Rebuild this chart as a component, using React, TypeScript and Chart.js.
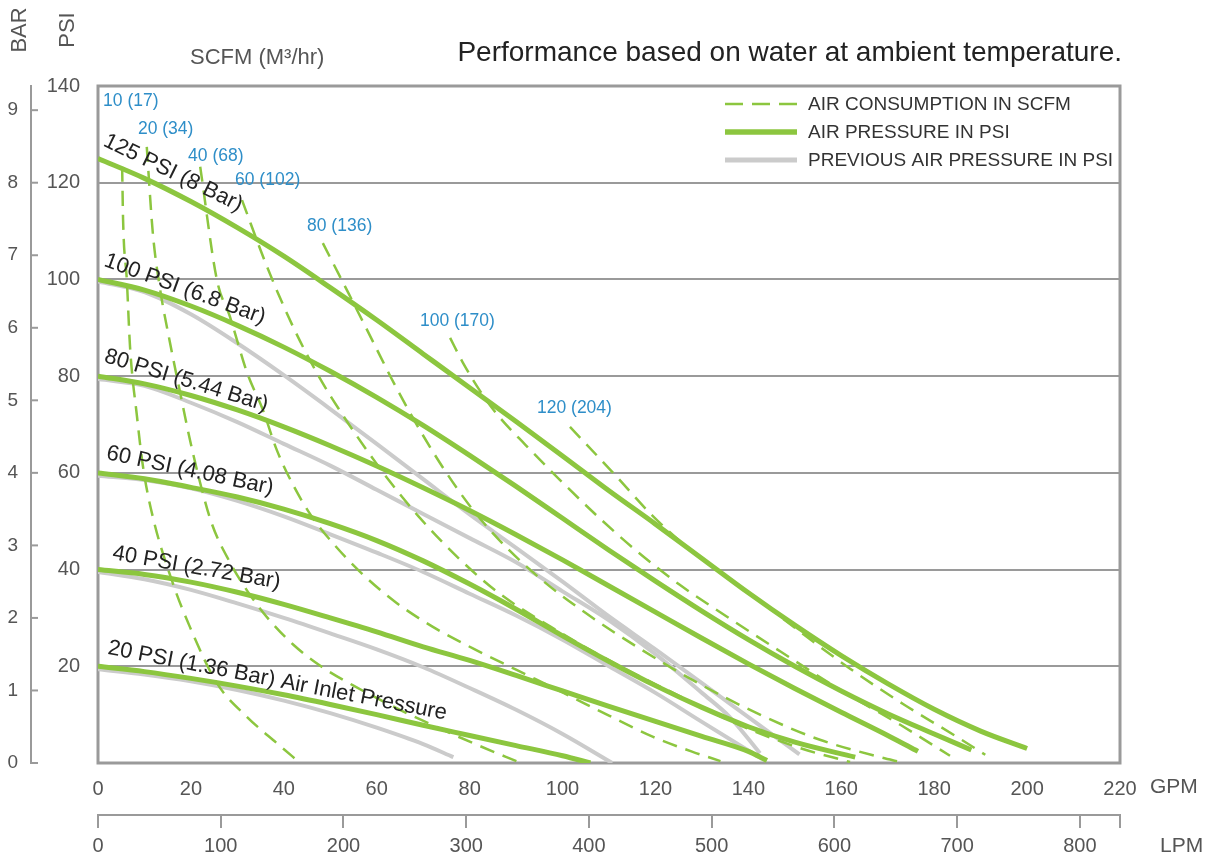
import React, { useEffect, useRef } from 'react';
import { Chart, registerables } from 'chart.js';

Chart.register(...registerables);

// ---- axes ----
const GPM_MAX = 220;
const PSI_MAX = 140;
const LPM_PER_GPM = 3.785;
const PSI_PER_BAR = 15; // as drawn on the BAR scale
const GPM_TICKS_STEP = 20;
const PSI_TICKS_STEP = 20;
const LPM_TICKS = [0, 100, 200, 300, 400, 500, 600, 700, 800];
const BAR_TICKS = [0, 1, 2, 3, 4, 5, 6, 7, 8, 9];

// ---- current air pressure curves (GPM -> PSI) ----
const G125_X = [0, 10, 20, 30, 40, 50, 60, 70, 80, 90, 100, 110, 120, 130, 140, 150, 160, 170, 180, 190, 200];
const G125_Y = [125, 120.9, 116.1, 110.7, 104.8, 98.3, 91.6, 84.6, 77.6, 70.6, 63.5, 56.3, 49.4, 42.3, 35.2, 28.5, 22.2, 16.4, 11.1, 6.6, 3];
const G100_X = [0, 10, 20, 30, 40, 50, 60, 70, 80, 90, 100, 110, 120, 130, 140, 150, 160, 170, 180, 188];
const G100_Y = [100, 97.8, 94.5, 90.5, 86, 81, 75.6, 69.8, 63.6, 57.2, 50.6, 44, 37.6, 31.4, 25.5, 20, 14.9, 10.2, 6, 2.7];
const G80_X = [0, 10, 20, 30, 40, 50, 60, 70, 80, 90, 100, 110, 120, 130, 140, 150, 160, 170, 176.5];
const G80_Y = [80, 78.4, 76, 73, 69.5, 65.6, 61.4, 56.9, 52.2, 47.2, 42, 36.6, 31.2, 25.8, 20.5, 15.4, 10.5, 5.7, 2.4];
const G60_X = [0, 10, 20, 30, 40, 50, 60, 70, 80, 90, 100, 110, 120, 130, 140, 150, 163];
const G60_Y = [60, 58.8, 57, 55, 52.5, 49.5, 46, 41.8, 37, 31.8, 26.3, 21, 16, 11.5, 7.5, 4.3, 1.2];
const G40_X = [0, 10, 20, 30, 40, 50, 60, 70, 80, 90, 100, 110, 120, 130, 140, 144];
const G40_Y = [40, 39, 37.4, 35.3, 32.8, 30, 27.1, 24, 21.2, 18.1, 14.9, 11.7, 8.6, 5.5, 2.4, 0.5];
const G20_X = [0, 10, 20, 30, 40, 50, 60, 70, 80, 90, 100, 106];
const G20_Y = [20, 18.9, 17.5, 15.9, 14.1, 12.1, 10, 7.8, 5.7, 3.6, 1.5, 0];

// ---- previous air pressure curves ----
const P100_X = [0, 10, 20, 30, 40, 50, 60, 70, 80, 90, 100, 110, 120, 130, 140, 151];
const P100_Y = [99.6, 97.4, 92.8, 86.8, 80.2, 73.2, 66, 58.7, 51.4, 44.5, 37.5, 30.3, 23.5, 16.5, 9.5, 1.8];
const P80_X = [0, 10, 20, 30, 40, 50, 60, 70, 80, 90, 100, 110, 120, 130, 136, 142.5];
const P80_Y = [79.4, 78, 74.5, 70.5, 66, 61.5, 56.5, 51.5, 46.5, 41.5, 35.5, 29.5, 22.5, 14.5, 9.5, 2];
const P60_X = [0, 10, 20, 30, 40, 50, 60, 70, 80, 90, 100, 110, 120, 130, 143];
const P60_Y = [59.4, 58.5, 56.8, 54.2, 51, 47.3, 43.5, 39.5, 35, 30.5, 25.5, 20, 14.5, 8.5, 0.8];
const P40_X = [0, 10, 20, 30, 40, 50, 60, 70, 80, 90, 100, 110.7];
const P40_Y = [39.5, 38, 35.8, 33, 30, 26.8, 23.5, 19.8, 15.5, 11, 6, 0];
const P20_X = [0, 10, 20, 30, 40, 50, 60, 70, 76.5];
const P20_Y = [19.4, 18.3, 16.9, 15.1, 12.9, 10.3, 7.3, 3.9, 1.2];

// ---- air consumption (SCFM) curves ----
const D10_X = [5.2, 5.4, 6.2, 6.9, 8.4, 9.7, 11.8, 16.1, 19.8, 25.6, 32.1, 38.5, 43.5];
const D10_Y = [123.3, 112.3, 100, 86, 71.6, 61.2, 50.9, 37.2, 28.1, 16.5, 9.5, 4.1, 0];
const D20_X = [10.5, 11.8, 13.3, 15.5, 17.7, 19.8, 22, 24.5, 28.4, 32.2, 36.5, 42, 48, 55, 65, 73, 81, 91];
const D20_Y = [127.4, 109.6, 98.4, 86.9, 76.5, 66.8, 57.9, 49.5, 41.5, 35.5, 30, 24.5, 20, 16, 11, 7.4, 4, 0];
const D40_X = [22, 25.6, 28.4, 32.1, 35.5, 38.5, 42, 46, 51, 57, 64, 72, 80.7, 90, 100, 110, 119.5, 128, 134];
const D40_Y = [123.3, 99.9, 92.3, 80.7, 73, 64.7, 57.5, 51, 45, 39, 33.3, 28.2, 23.7, 19.3, 14.6, 9.8, 5.4, 2.3, 0.4];
const D60_X = [31, 36.4, 42, 47.5, 53, 58, 63, 69, 78, 86.5, 99.5, 112.4, 125.3, 138.2, 151.1, 161.9];
const D60_Y = [116.4, 102.6, 90.2, 80, 71.5, 64.5, 58, 51, 42, 35, 27, 20, 13.8, 7.8, 3.1, 0.2];
const D80_X = [48.4, 54, 59, 64, 69.5, 75, 81, 88, 96, 105, 116.7, 129.6, 142.5, 155.4, 168.4, 172.7];
const D80_Y = [107.5, 97, 87.5, 78, 68.5, 60, 52, 44.5, 37.5, 31, 23.6, 16.3, 10, 4.8, 1.2, 0.2];
const D100_X = [75.8, 78.6, 82.2, 86, 92, 100, 108, 116, 125, 135, 147, 160, 172.7, 183.4];
const D100_Y = [87.9, 82.7, 77, 72, 65.8, 58, 50.6, 43.8, 37, 30.5, 23, 15, 7.9, 1.5];
const D120_X = [101.6, 110.9, 119.5, 127, 142.5, 152, 161.9, 173.3, 184.9, 191];
const D120_Y = [69.5, 60, 51, 44.5, 33.5, 26.5, 19.5, 12.2, 5.4, 1.7];

// ---- text labels ----
const CURVE_LABELS = ['125 PSI (8 Bar)', '100 PSI (6.8 Bar)', '80 PSI (5.44 Bar)', '60 PSI (4.08 Bar)', '40 PSI (2.72 Bar)', '20 PSI (1.36 Bar) Air Inlet Pressure'];
const CURVE_LABEL_GPM = [1.5, 1.5, 1.5, 1.9, 3.2, 2.2];
const CURVE_LABEL_PSI = [128.9, 104, 84.2, 64.1, 43.4, 23.8];
const CURVE_LABEL_ANGLE = [26, 20, 17, 12, 10, 11];

const SCFM_LABELS = ['10 (17)', '20 (34)', '40 (68)', '60 (102)', '80 (136)', '100 (170)', '120 (204)'];
const SCFM_LABEL_GPM = [1.1, 8.6, 19.4, 29.5, 45, 69.3, 94.5];
const SCFM_LABEL_PSI = [136.9, 131.1, 125.5, 120.6, 111.1, 91.4, 73.4];

const LEGEND_LABELS = ['AIR CONSUMPTION IN SCFM', 'AIR PRESSURE IN PSI', 'PREVIOUS AIR PRESSURE IN PSI'];
const TITLE = 'Performance based on water at ambient temperature.';
const SCFM_HEADER = 'SCFM (M\u00B3/hr)';

const FONT = '"Liberation Sans", Arial, Helvetica, sans-serif';
const GREEN = '#8cc63f';
const GRAY = '#cbcbcb';
const AXIS_GRAY = '#9a9a9a';
const TICK_TEXT = '#555555';
const BLUE = '#2e8ec8';
const DASH = [15, 9];

const pts = (xs: number[], ys: number[]) => xs.map((x, i) => ({ x, y: ys[i] }));

const solid = (xs: number[], ys: number[]) => ({
  data: pts(xs, ys), borderColor: GREEN, borderWidth: 5, pointRadius: 0,
  cubicInterpolationMode: 'monotone' as const, fill: false, order: 1,
});
const prev = (xs: number[], ys: number[]) => ({
  data: pts(xs, ys), borderColor: GRAY, borderWidth: 4, pointRadius: 0,
  cubicInterpolationMode: 'monotone' as const, fill: false, order: 3,
});
const dashed = (xs: number[], ys: number[]) => ({
  data: pts(xs, ys), borderColor: GREEN, borderWidth: 2.5, borderDash: DASH, pointRadius: 0,
  cubicInterpolationMode: 'monotone' as const, fill: false, order: 2,
});

const decorPlugin = {
  id: 'decor',
  beforeDatasetsDraw(chart: any) {
    const { ctx, chartArea } = chart;
    ctx.save();
    ctx.strokeStyle = AXIS_GRAY;
    ctx.lineWidth = 3;
    ctx.strokeRect(chartArea.left, chartArea.top, chartArea.right - chartArea.left, chartArea.bottom - chartArea.top);
    ctx.restore();
  },
  afterDraw(chart: any) {
    const { ctx, chartArea, scales } = chart;
    const xs = scales.x;
    const ys = scales.y;
    const bar = scales.bar;
    ctx.save();
    // bar ticks pointing inward
    ctx.strokeStyle = AXIS_GRAY;
    ctx.lineWidth = 2;
    BAR_TICKS.forEach((v) => {
      const py = bar.getPixelForValue(v);
      ctx.beginPath();
      ctx.moveTo(bar.right, py);
      ctx.lineTo(bar.right + 7, py);
      ctx.stroke();
    });
    // header texts
    ctx.fillStyle = TICK_TEXT;
    ctx.font = `22px ${FONT}`;
    ctx.textAlign = 'center';
    ctx.textBaseline = 'middle';
    ctx.save();
    ctx.translate(20, 30);
    ctx.rotate(-Math.PI / 2);
    ctx.fillText('BAR', 0, 0);
    ctx.restore();
    ctx.save();
    ctx.translate(68, 30);
    ctx.rotate(-Math.PI / 2);
    ctx.fillText('PSI', 0, 0);
    ctx.restore();
    ctx.textAlign = 'left';
    ctx.fillText(SCFM_HEADER, 190, 58);
    ctx.fillStyle = '#222';
    ctx.font = `28px ${FONT}`;
    ctx.textAlign = 'right';
    ctx.fillText(TITLE, 1122, 53);
    // axis unit labels
    ctx.fillStyle = TICK_TEXT;
    ctx.font = `21px ${FONT}`;
    ctx.textAlign = 'left';
    ctx.fillText('GPM', chartArea.right + 30, 787);
    ctx.fillText('LPM', chartArea.right + 40, 846);
    // legend
    const lx0 = 725, lx1 = 797;
    const ly = [104, 132, 160];
    ctx.lineCap = 'butt';
    ctx.strokeStyle = GREEN;
    ctx.lineWidth = 2.5;
    ctx.setLineDash([18, 9]);
    ctx.beginPath(); ctx.moveTo(lx0, ly[0]); ctx.lineTo(lx1, ly[0]); ctx.stroke();
    ctx.setLineDash([]);
    ctx.lineWidth = 5.5;
    ctx.beginPath(); ctx.moveTo(lx0, ly[1]); ctx.lineTo(lx1, ly[1]); ctx.stroke();
    ctx.strokeStyle = GRAY;
    ctx.lineWidth = 5;
    ctx.beginPath(); ctx.moveTo(lx0, ly[2]); ctx.lineTo(lx1, ly[2]); ctx.stroke();
    ctx.fillStyle = '#333';
    ctx.font = `19px ${FONT}`;
    ctx.textAlign = 'left';
    LEGEND_LABELS.forEach((t, i) => ctx.fillText(t, 808, ly[i] + 1));
    // curve labels
    ctx.fillStyle = '#222';
    ctx.font = `22px ${FONT}`;
    ctx.textBaseline = 'middle';
    CURVE_LABELS.forEach((t, i) => {
      ctx.save();
      ctx.translate(xs.getPixelForValue(CURVE_LABEL_GPM[i]), ys.getPixelForValue(CURVE_LABEL_PSI[i]));
      ctx.rotate((CURVE_LABEL_ANGLE[i] * Math.PI) / 180);
      ctx.fillText(t, 0, 0);
      ctx.restore();
    });
    // SCFM labels
    ctx.fillStyle = BLUE;
    ctx.font = `17.5px ${FONT}`;
    SCFM_LABELS.forEach((t, i) => {
      ctx.fillText(t, xs.getPixelForValue(SCFM_LABEL_GPM[i]), ys.getPixelForValue(SCFM_LABEL_PSI[i]));
    });
    ctx.restore();
  },
};

export default function App() {
  const ref = useRef<HTMLCanvasElement>(null);
  useEffect(() => {
    const lpmMax = GPM_MAX * LPM_PER_GPM;
    const chart = new Chart(ref.current as HTMLCanvasElement, {
      type: 'line',
      data: {
        datasets: [
          solid(G125_X, G125_Y), solid(G100_X, G100_Y), solid(G80_X, G80_Y),
          solid(G60_X, G60_Y), solid(G40_X, G40_Y), solid(G20_X, G20_Y),
          dashed(D10_X, D10_Y), dashed(D20_X, D20_Y), dashed(D40_X, D40_Y), dashed(D60_X, D60_Y),
          dashed(D80_X, D80_Y), dashed(D100_X, D100_Y), dashed(D120_X, D120_Y),
          prev(P100_X, P100_Y), prev(P80_X, P80_Y), prev(P60_X, P60_Y), prev(P40_X, P40_Y), prev(P20_X, P20_Y),
        ] as any,
      },
      options: {
        responsive: false,
        animation: false,
        layout: { padding: { top: 86, right: 86, left: 0, bottom: 0 } },
        plugins: { legend: { display: false }, tooltip: { enabled: false }, title: { display: false } },
        scales: {
          x: {
            type: 'linear', position: 'bottom', min: 0, max: GPM_MAX, weight: 0,
            ticks: { stepSize: GPM_TICKS_STEP, color: TICK_TEXT, font: { size: 20, family: FONT }, padding: 14, maxRotation: 0, autoSkip: false },
            grid: { display: false, drawTicks: false },
            border: { display: false },
            afterFit: (s: any) => { s.height = 52; },
          },
          lpm: {
            type: 'linear', position: 'bottom', min: 0, max: lpmMax, weight: 1,
            afterBuildTicks: (s: any) => { s.ticks = [...LPM_TICKS, lpmMax].map((v) => ({ value: v })); },
            ticks: {
              color: TICK_TEXT, font: { size: 20, family: FONT }, padding: 6, maxRotation: 0, autoSkip: false,
              callback: (v: any) => (LPM_TICKS.includes(v) ? String(v) : ''),
            },
            grid: { drawOnChartArea: false, drawTicks: true, tickLength: 13, color: AXIS_GRAY, lineWidth: 2 },
            border: { display: true, color: AXIS_GRAY, width: 2 },
            afterFit: (s: any) => { s.height = 45; },
          },
          y: {
            type: 'linear', position: 'left', min: 0, max: PSI_MAX, weight: 0,
            ticks: {
              stepSize: PSI_TICKS_STEP, color: TICK_TEXT, font: { size: 20, family: FONT }, padding: 18,
              callback: (v: any) => (v === 0 ? '' : String(v)),
            },
            grid: { color: AXIS_GRAY, lineWidth: 2, drawTicks: false },
            border: { display: false },
            afterFit: (s: any) => { s.width = 67; },
          },
          bar: {
            type: 'linear', position: 'left', min: 0, max: PSI_MAX / PSI_PER_BAR, weight: 1,
            afterBuildTicks: (s: any) => { s.ticks = BAR_TICKS.map((v) => ({ value: v })); },
            ticks: { color: TICK_TEXT, font: { size: 19, family: FONT }, padding: 13 },
            grid: { display: false, drawTicks: false },
            border: { display: true, color: AXIS_GRAY, width: 2 },
            afterFit: (s: any) => { s.width = 31; },
          },
        },
      },
      plugins: [decorPlugin],
    } as any);
    return () => chart.destroy();
  }, []);
  return (
    <div style={{ position: 'fixed', left: 0, top: 0, width: 1206, height: 860, background: '#fff' }}>
      <canvas ref={ref} width={1206} height={860} style={{ width: 1206, height: 860, display: 'block' }} />
    </div>
  );
}
